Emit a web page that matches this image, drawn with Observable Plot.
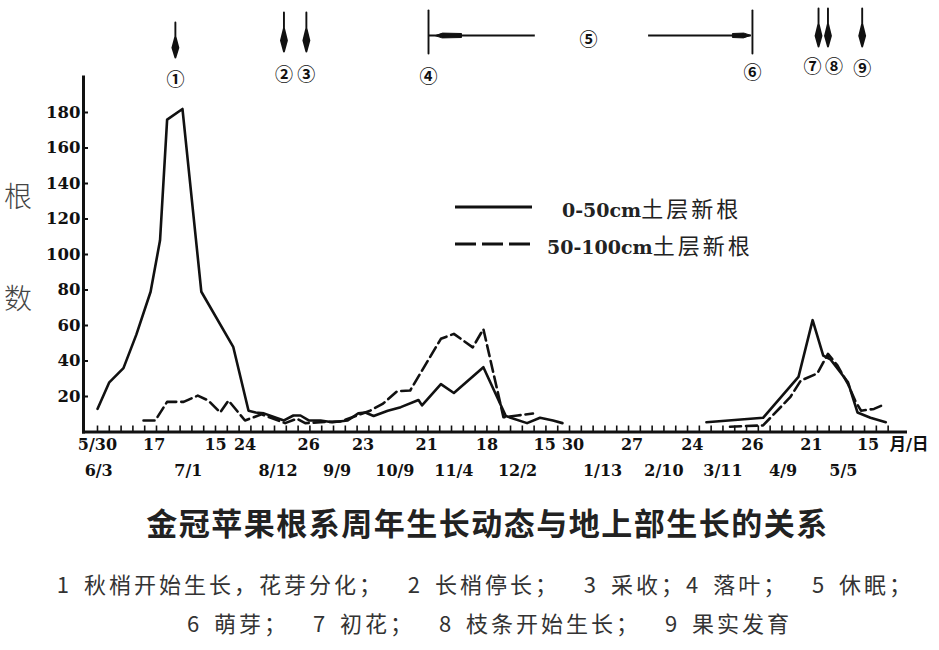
<!DOCTYPE html>
<html>
<head>
<meta charset="utf-8">
<script src="https://cdn.jsdelivr.net/npm/d3@7"></script>
<script src="https://cdn.jsdelivr.net/npm/@observablehq/plot@0.6"></script>
<style>
  body { margin: 0; background: #fff; }
  #wrap { position: relative; width: 939px; height: 650px; background: #fff; overflow: hidden; }
  #chart { position: absolute; left: 0; top: 0; }
  .ylab { position: absolute; left: 3px; width: 30px; text-align: center; font: 300 28px/36px "Noto Sans CJK SC", sans-serif; color: #444; }
  .leg { position: absolute; font-family: "DejaVu Serif", serif; font-weight: bold; font-size: 19px; color: #222; white-space: nowrap; line-height: 26px; }
  .leg .cn { font-family: "Noto Sans CJK SC", sans-serif; font-weight: 400; font-size: 22px; letter-spacing: 3px; }
  .legline { position: absolute; }
  #title { position: absolute; top: 502px; left: 18px; width: 939px; text-align: center; font: 700 31px/40px "Noto Sans CJK SC", sans-serif; letter-spacing: 1.5px; color: #222; white-space: nowrap; }
  .cap { position: absolute; left: 0; width: 939px; text-align: center; font: 400 22px/28px "Noto Sans CJK SC", sans-serif; letter-spacing: 3px; word-spacing: 4px; color: #333; white-space: pre; }
</style>
</head>
<body>
<div id="wrap">
  <div id="chart"></div>
  <div class="ylab" style="top:177px">根</div>
  <div class="ylab" style="top:279px">数</div>
  <svg class="legline" style="left:455px;top:201px" width="80" height="12"><line x1="0" y1="6" x2="77" y2="6" stroke="#111" stroke-width="3"/></svg>
  <div class="leg" style="left:562px;top:194px">0-50cm<span class="cn">土层新根</span></div>
  <svg class="legline" style="left:455px;top:238px" width="80" height="12"><line x1="0" y1="6" x2="76" y2="6" stroke="#111" stroke-width="3.2" stroke-dasharray="21,6"/></svg>
  <div class="leg" style="left:547px;top:231px">50-100cm<span class="cn">土层新根</span></div>
  <div id="title">金冠苹果根系周年生长动态与地上部生长的关系</div>
  <div class="cap" id="cap1" style="top:569px;left:16px"></div>
  <div class="cap" id="cap2" style="top:608px;left:20px"></div>
</div>
<script>
// ---------- data ----------
// x = position along the sampling sequence (one unit per axis tick)
const solidX = [0, 1, 2.2, 3.3, 4.5, 5.3, 5.9, 7.2, 8.8, 11.5, 12.8, 13.4, 14.1, 15.8, 16.6, 17.2, 17.9, 18.9, 19.9, 21.2, 22.1, 22.7, 23.4, 24.6, 25.7, 27.2, 27.5, 29.1, 30.2, 32.7, 34.6, 36.4, 37.5, 38.6, 39.4, 45, 51.6, 56.4, 59.4, 60.6, 61.5, 62.1, 63.6, 64.4, 65.5, 66.8];
const solidY = [13, 28, 36, 55, 79, 108, 176, 182, 79, 48, 12, 11, 10.5, 6.5, 9.3, 9.3, 6.5, 6.5, 5.5, 6.5, 10.5, 11, 9, 12, 14, 18, 15, 27, 22, 36.5, 9, 5, 8, 6.5, 5, null, 5.5, 8, 31, 63, 43, 41, 28, 11, 8, 5.5];

const dashX = [3.9, 4.9, 5.9, 7.3, 8.5, 9.4, 10.4, 11.1, 12.5, 13.9, 15.9, 16.9, 17.6, 18.9, 20.6, 22.0, 23.1, 24.2, 25.4, 26.5, 29.1, 30.2, 31.8, 32.7, 34.4, 35.6, 36.9, 45, 53.6, 56.4, 58.7, 59.6, 61.0, 61.9, 62.7, 63.6, 64.2, 64.7, 65.8, 66.5];
const dashY = [6.5, 6.5, 17, 17, 20.5, 17.7, 11, 17.7, 6.5, 10, 5, 7.5, 5, 5.5, 6, 9.3, 12, 16, 23, 23.4, 52.5, 55.3, 47.7, 58, 8.3, 9.3, 10.4, null, 3, 3.7, 19.6, 29, 33, 44, 37.5, 27, 17.7, 12, 13, 15];

const yTicks = [20, 40, 60, 80, 100, 120, 140, 160, 180];
const tickCount = 68;

const topLabels = ["5/30", "17", "15", "24", "26", "23", "21", "18", "15", "30", "27", "24", "26", "21", "15"];
const topLabelX = [0, 4.8, 10.0, 12.5, 17.9, 22.5, 27.9, 33.0, 37.9, 40.3, 45.3, 50.4, 55.5, 60.5, 65.3];
const botLabels = ["6/3", "7/1", "8/12", "9/9", "10/9", "11/4", "12/2", "1/13", "2/10", "3/11", "4/9", "5/5"];
const botLabelX = [0.1, 7.7, 15.3, 20.3, 25.2, 30.2, 35.6, 42.8, 48.0, 53.0, 58.1, 63.2];

const eventNames = ["①", "②", "③", "④", "⑤", "⑥", "⑦", "⑧", "⑨"];
const eventX = [6.6, 15.8, 17.7, 28.05, 41.6, 55.5, 61.1, 61.9, 64.8];
const dormancyX1 = [28.1, 46.7];
const dormancyX2 = [37.1, 55.4];

const captionLines = [
  "1 秋梢开始生长，花芽分化；  2 长梢停长；  3 采收；4 落叶；  5 休眠；",
  "6 萌芽；  7 初花；  8 枝条开始生长；  9 果实发育"
];

// ---------- layout / style ----------
const W = 939, H = 500, mt = 76.5, mb = 68.5, ml = 83, mr = 34;
const midY = (mt + H - mb) / 2;
const ink = "#111";
const annFont = "'Noto Sans CJK SC', 'DejaVu Sans', sans-serif";

// per-event drawing style (top of arrow, its length, label centre, label nudge)
const evStyle = {
  "①": {kind: "arrow", top: 22, len: 35, ly: 73, dx: 0},
  "②": {kind: "arrow", top: 12, len: 39, ly: 68, dx: 0},
  "③": {kind: "arrow", top: 12, len: 39, ly: 68, dx: 0},
  "④": {kind: "line", top: 10, len: 43, ly: 70, dx: 0},
  "⑤": {kind: "none", ly: 33, dx: 0},
  "⑥": {kind: "line", top: 10, len: 43, ly: 66, dx: 0},
  "⑦": {kind: "arrow", top: 8, len: 38, ly: 60, dx: -6},
  "⑧": {kind: "arrow", top: 8, len: 38, ly: 60, dx: 6},
  "⑨": {kind: "arrow", top: 8, len: 38, ly: 62, dx: 0}
};

const spindle = {
  draw(ctx, l) {
    ctx.moveTo(0, 0);
    ctx.lineTo(0, -l);
    ctx.moveTo(0, -l * 0.4);
    ctx.lineTo(3.0, -l * 0.72);
    ctx.lineTo(0, -l);
    ctx.lineTo(-3.0, -l * 0.72);
    ctx.closePath();
  }
};
const stick = { draw(ctx, l) { ctx.moveTo(0, 0); ctx.lineTo(0, -l); } };
const wedge = {
  draw(ctx, l) {
    ctx.moveTo(0, -l);
    ctx.lineTo(2.4, -l + 7);
    ctx.lineTo(2.0, 0);
    ctx.lineTo(-2.0, 0);
    ctx.lineTo(-2.4, -l + 7);
    ctx.closePath();
  }
};

const solid = solidX.map((x, i) => ({x, y: solidY[i]}));
const dashed = dashX.map((x, i) => ({x, y: dashY[i]}));
const events = eventNames.map((n, i) => ({n, x: eventX[i]}));
const dorm = dormancyX1.map((x1, i) => ({x1, x2: dormancyX2[i]}));

// x domain chosen so that the axis line spans the drawn width
const xDomain = [-1.186, 68.47];

const marks = [
  Plot.frame({anchor: "left", stroke: ink, strokeWidth: 3}),
  Plot.frame({anchor: "bottom", stroke: ink, strokeWidth: 3}),
  Plot.axisY({ticks: yTicks, tickSize: -5, tickPadding: 8, label: null, stroke: ink, strokeWidth: 2, fill: ink, fontSize: 16.5}),
  Plot.axisX({ticks: d3.range(tickCount), tickSize: -6, tickFormat: () => "", label: null, stroke: ink, strokeWidth: 1.6}),
  Plot.text(topLabels, {x: (d, i) => topLabelX[i], text: d => d, frameAnchor: "bottom", dy: 18, fill: ink, fontSize: 16}),
  Plot.text(botLabels, {x: (d, i) => botLabelX[i], text: d => d, frameAnchor: "bottom", dy: 44, fill: ink, fontSize: 16}),
  Plot.text(["月/日"], {frameAnchor: "bottom-right", text: d => d, textAnchor: "start", dx: -16, dy: 18, fill: ink, fontSize: 16.5}),
  Plot.line(solid, {x: "x", y: "y", stroke: ink, strokeWidth: 2.6, strokeLinejoin: "round"}),
  Plot.line(dashed, {x: "x", y: "y", stroke: ink, strokeWidth: 2.6, strokeDasharray: "11,5", strokeLinejoin: "round"}),
  // dormancy period (⑤) horizontal arrows
  Plot.ruleY(dorm, {y: null, x1: "x1", x2: "x2", stroke: ink, strokeWidth: 2.2, dy: 35 - midY}),
  Plot.vector(events.filter(d => d.n === "④"), {x: "x", frameAnchor: "top", rotate: 270, anchor: "end", length: 26, shape: wedge, fill: ink, stroke: ink, strokeWidth: 1, dy: 35 - mt, dx: 7}),
  Plot.vector(events.filter(d => d.n === "⑥"), {x: "x", frameAnchor: "top", rotate: 90, anchor: "end", length: 18, shape: wedge, fill: ink, stroke: ink, strokeWidth: 1, dy: 35 - mt, dx: -2})
];

// event arrows / markers and circled labels
for (const e of events) {
  const s = evStyle[e.n];
  if (s.kind === "arrow" || s.kind === "line") {
    marks.push(Plot.vector([e], {
      x: "x", frameAnchor: "top", rotate: 180, anchor: "start", length: s.len,
      shape: s.kind === "arrow" ? spindle : stick,
      stroke: ink, fill: ink, strokeWidth: 1.9, dy: s.top - mt
    }));
  }
  marks.push(Plot.text([e], {
    x: "x", text: "n", frameAnchor: "top", dy: s.ly - mt, dx: s.dx,
    fontFamily: annFont, fontWeight: "bold", fontSize: 18, fill: ink
  }));
}

try {
  const chart = Plot.plot({
    width: W, height: H,
    marginTop: mt, marginBottom: mb, marginLeft: ml, marginRight: mr,
    x: {domain: xDomain},
    y: {domain: [0, 200]},
    style: {fontFamily: "'DejaVu Serif', 'Noto Sans CJK SC', serif", fontWeight: "bold", fontSize: "16px", background: "transparent", color: ink, overflow: "visible"},
    marks
  });
  document.getElementById("chart").appendChild(chart);
} catch (err) {
  document.getElementById("chart").textContent = "Error: " + err.message;
}

document.getElementById("cap1").textContent = captionLines[0];
document.getElementById("cap2").textContent = captionLines[1];
</script>
</body>
</html>
